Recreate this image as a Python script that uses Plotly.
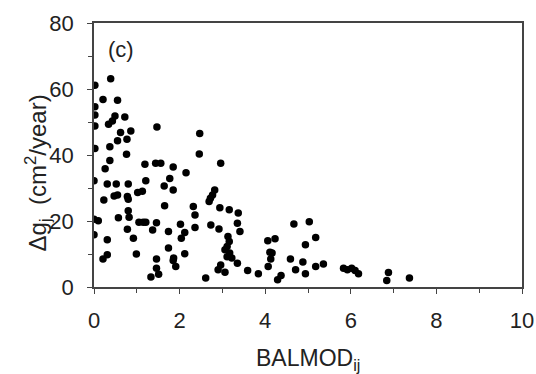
import plotly.graph_objects as go

# BALMOD_ij values (x) and growth Δg_j values (y)
balmod = [
    0.39, 0.02, 0.21, 0.55, 0.02, 0.02, 0.49, 0.72, 0.43, 0.34, 0.02, 1.47,
    0.62, 0.86, 0.55, 0.77, 0.02, 0.37, 0.76, 0.37, 0.26, 1.19, 1.44, 1.56,
    1.85, 0.00, 0.31, 0.52, 0.80, 1.21, 1.64, 1.85, 0.23, 0.47, 0.55, 0.78,
    0.80, 1.02, 1.13, 1.65, 0.80, 0.82, 0.00, 0.10, 0.57, 1.05, 1.15, 1.21,
    1.46, 0.00, 0.78, 1.37, 1.74, 0.92, 0.31, 1.74, 0.31, 0.21, 0.99, 1.46,
    1.85, 1.46, 1.51, 1.33,
    2.47, 2.46, 2.96, 2.15, 1.77, 2.82, 2.77, 2.72, 2.69, 2.32, 2.36, 2.36,
    2.94, 3.16, 3.37, 3.35, 3.41, 2.02, 2.12, 2.04, 2.73, 2.92, 3.13, 3.16,
    3.11, 3.06, 3.17, 3.11, 3.22, 2.12, 1.86, 1.91, 3.35, 2.96, 2.90, 3.06,
    3.59, 3.84, 2.61,
    4.67, 5.03, 4.06, 4.23, 5.18, 4.94, 4.11, 4.16, 4.13, 4.07, 4.59, 4.88,
    4.71, 4.94, 5.18, 5.36, 4.37, 4.29, 5.83,
    5.92, 6.02, 6.10, 6.18, 6.88, 6.84, 7.37,
]
delta_g = [
    63.1, 61.1, 56.8, 56.6, 54.6, 52.1, 51.8, 51.5, 50.3, 49.3, 48.8, 48.5,
    46.8, 47.3, 44.3, 44.8, 42.0, 42.5, 40.2, 38.3, 35.8, 37.2, 37.5, 37.5,
    36.4, 32.2, 31.2, 31.2, 31.2, 32.2, 30.6, 29.4, 26.4, 27.6, 27.9, 27.4,
    26.6, 28.6, 29.0, 24.6, 23.1, 21.1, 20.5, 20.1, 21.0, 19.6, 19.6, 19.6,
    19.5, 15.8, 17.5, 17.3, 16.8, 14.8, 14.3, 11.8, 9.8, 8.5, 10.0, 8.5,
    8.0, 5.7, 3.9, 3.0,
    46.5, 40.3, 37.5, 34.6, 32.9, 29.4, 27.9, 26.9, 25.9, 24.4, 21.8, 18.0,
    24.0, 23.4, 22.4, 19.3, 16.8, 19.0, 16.5, 14.8, 18.8, 17.6, 15.3, 13.8,
    12.3, 11.3, 10.3, 9.2, 8.8, 10.1, 8.8, 6.2, 7.2, 6.7, 5.2, 4.5,
    5.0, 4.0, 2.7,
    19.1, 19.8, 14.0, 14.6, 15.0, 12.8, 10.5, 10.3, 8.5, 6.2, 8.5, 7.6,
    5.2, 4.0, 6.2, 7.0, 3.5, 2.2, 5.7,
    5.2, 5.7, 5.0, 4.0, 4.4, 2.0, 2.7,
]

x_ticks = [0, 2, 4, 6, 8, 10]
y_ticks = [0, 20, 40, 60, 80]

FONT = "Arial, Liberation Sans, sans-serif"
AX = "#444444"

fig = go.Figure(
    go.Scatter(
        x=balmod, y=delta_g, mode="markers",
        marker=dict(color="black", size=7.5, line=dict(width=0)),
        showlegend=False,
    )
)

fig.update_layout(
    width=536, height=374,
    margin=dict(l=94, r=14, t=23, b=87, autoexpand=False),
    paper_bgcolor="white", plot_bgcolor="white",
    font=dict(family=FONT, size=22, color="#222222"),
)

fig.update_xaxes(
    range=[0, 10], tickvals=x_ticks, ticktext=[str(v) for v in x_ticks],
    showgrid=False, zeroline=False, automargin=False,
    showline=True, linecolor=AX, linewidth=1.5, mirror=True,
    ticks="outside", ticklen=5, tickcolor=AX, tickwidth=1,
    ticklabelstandoff=8,
    minor=dict(dtick=1, ticks="outside", ticklen=4, tickcolor=AX, tickwidth=1, showgrid=False),
)
fig.update_yaxes(
    range=[0, 80], tickvals=y_ticks, ticktext=[str(v) for v in y_ticks],
    showgrid=False, zeroline=False, automargin=False,
    showline=True, linecolor=AX, linewidth=1.5, mirror=True,
    ticks="outside", ticklen=5, tickcolor=AX, tickwidth=1,
    ticklabelstandoff=9,
    minor=dict(dtick=10, ticks="outside", ticklen=4, tickcolor=AX, tickwidth=1, showgrid=False),
)

fig.add_annotation(
    text="BALMOD<sub>ij</sub>", xref="paper", yref="paper", x=0.5, y=0,
    xanchor="center", yanchor="top", yshift=-56, showarrow=False,
    font=dict(size=23),
)
fig.add_annotation(
    text="Δg<sub>j</sub>\u00a0 (cm<sup>2</sup>/year)", xref="paper", yref="paper",
    x=0, y=0.43, xanchor="center", yanchor="middle", xshift=-56,
    textangle=-90, showarrow=False, font=dict(size=24),
)
fig.add_annotation(
    text="(c)", xref="paper", yref="paper", x=0, y=1,
    xanchor="left", yanchor="top", xshift=12, yshift=-12, showarrow=False,
    font=dict(size=22),
)

fig.write_html(
    "out.html",
    config={"displayModeBar": False},
    post_script="document.body.style.margin='0';document.body.style.overflow='hidden';",
)
